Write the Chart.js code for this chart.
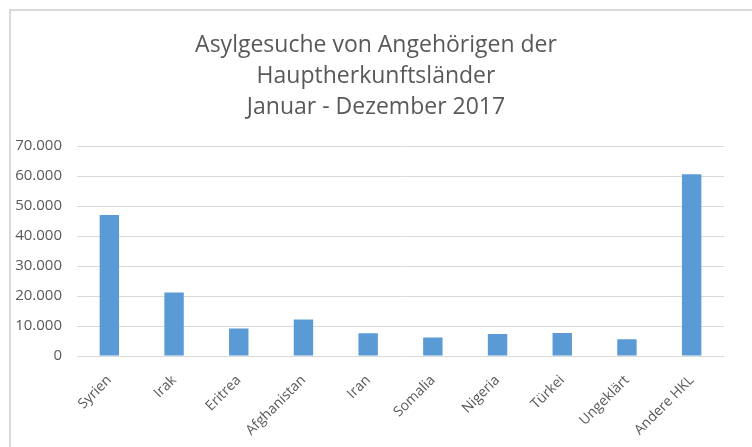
<!DOCTYPE html>
<html>
<head>
<meta charset="utf-8">
<script src="https://cdn.jsdelivr.net/npm/chart.js@4.4.0/dist/chart.umd.min.js"></script>
<style>
  html, body { margin: 0; padding: 0; background: #fff; overflow: hidden; }
  #wrap { position: relative; width: 752px; height: 447px; }
  #frame { position: absolute; left: 9px; top: 9px; right: -10px; bottom: -10px;
           border-left: 2px solid #d9d9d9; border-top: 2px solid #d9d9d9; }
  canvas { position: absolute; left: 0; top: 0; }
</style>
</head>
<body>
<div id="wrap">
  <div id="frame"></div>
  <canvas id="chart" width="752" height="447"></canvas>
</div>
<script>
// values
const countries = ['Syrien', 'Irak', 'Eritrea', 'Afghanistan', 'Iran', 'Somalia', 'Nigeria', 'Türkei', 'Ungeklärt', 'Andere HKL'];
const requests = [47000, 21200, 9200, 12200, 7600, 6200, 7300, 7700, 5600, 60600];
const yTicks = [0, 10000, 20000, 30000, 40000, 50000, 60000, 70000];
const titleLines = ['Asylgesuche von Angehörigen der', 'Hauptherkunftsländer', 'Januar - Dezember 2017'];

const grey = '#595959';
const font = '"Open Sans", "Liberation Sans", sans-serif';

new Chart(document.getElementById('chart'), {
  type: 'bar',
  data: {
    labels: countries,
    datasets: [{ data: requests, backgroundColor: '#5b9bd5', borderWidth: 0, barPercentage: 0.6, categoryPercentage: 0.5 }]
  },
  options: {
    responsive: false,
    animation: false,
    layout: { padding: { left: 15, right: 15, top: 0, bottom: 0 } },
    plugins: {
      legend: { display: false },
      tooltip: { enabled: false },
      title: {
        display: true,
        text: titleLines,
        color: grey,
        font: { family: font, size: 23, weight: 'normal', lineHeight: 1.35 },
        padding: { top: 30, bottom: 23 }
      }
    },
    scales: {
      x: {
        grid: { display: false },
        border: { display: false },
        ticks: { color: grey, font: { family: font, size: 14 }, minRotation: 45, maxRotation: 45, autoSkip: false, padding: 8 },
        afterFit: s => { s.height = 91; }
      },
      y: {
        min: 0, max: 70000,
        afterBuildTicks: s => { s.ticks = yTicks.map(v => ({ value: v })); },
        grid: { color: '#d9d9d9', lineWidth: 1, drawTicks: false },
        border: { display: false },
        ticks: { color: grey, font: { family: font, size: 15 }, padding: 15,
                 callback: v => v.toLocaleString('de-DE') },
        afterFit: s => { s.width = 62; }
      },
      // empty right-hand axis, only keeps the plot off the right edge like the original
      spacer: {
        position: 'right',
        grid: { display: false },
        border: { display: false },
        ticks: { display: false },
        afterFit: s => { s.width = 13; }
      }
    }
  }
});
</script>
</body>
</html>
